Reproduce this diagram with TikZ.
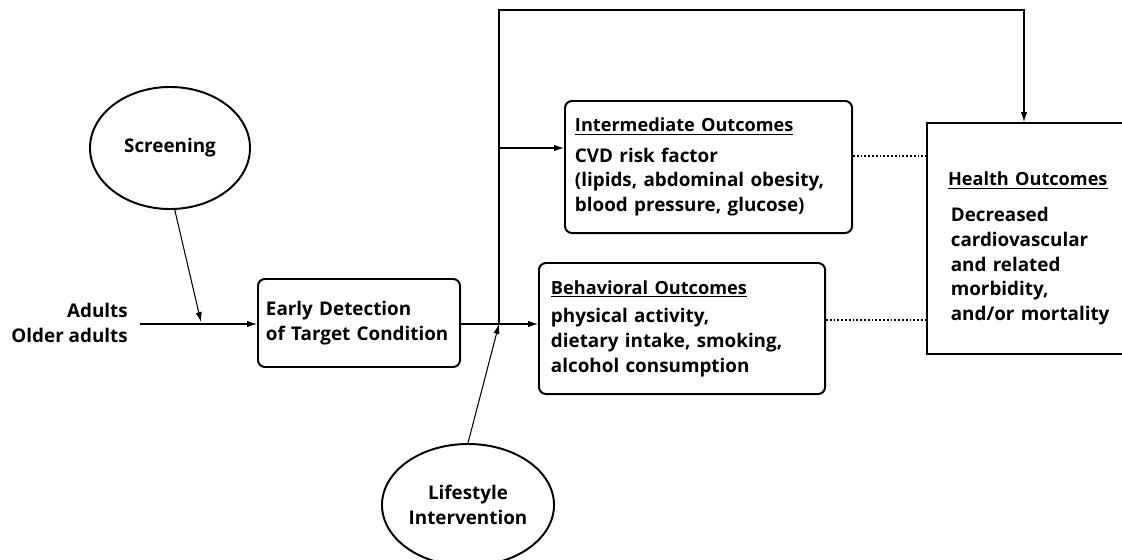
\documentclass[tikz,border=0pt]{standalone}
\usepackage{fontspec}
\setmainfont{Open Sans}
\usetikzlibrary{shapes.geometric,arrows.meta}

\newcommand{\headline}[1]{{\fontsize{12.9}{17.5}\selectfont\underline{#1}}}

\tikzset{
    txt/.style={font=\bfseries\fontsize{13.4}{17.5}\selectfont},
    box/.style={txt, draw, line width=1.4pt, rounded corners=5pt, align=left, anchor=north west, inner ysep=0pt},
    oval/.style={txt, draw, line width=1.4pt, ellipse, align=center, inner sep=0pt},
    link/.style={line width=0.75pt, -{Latex[length=7pt,width=4.5pt]}},
    dots/.style={line width=1.3pt, dash pattern=on 1.3pt off 1.4pt},
}

\begin{document}
\begin{tikzpicture}[x=0.025cm, y=-0.025cm]
    \useasboundingbox (0,0) rectangle (1122,559);

    % ovals
    \node[oval, minimum width=4cm, minimum height=3.05cm] (screen) at (170,148) {Screening};
    \node[oval, minimum width=4.3cm, minimum height=3.05cm] (life) at (468,505) {Lifestyle\\Intervention};

    % population
    \node[txt, align=right, anchor=east, inner sep=0pt] (pop) at (128,323) {Adults\\Older adults};

    % boxes
    \node[box, inner xsep=0.2cm, text width=4.65cm, minimum height=2.2cm] (early) at (257,278)
        {Early Detection\\of Target Condition};
    \node[box, inner xsep=0.25cm, text width=6.675cm, minimum height=3.3cm] (inter) at (564,100)
        {\headline{Intermediate Outcomes}\\[4pt]CVD risk factor\\(lipids, abdominal obesity,\\blood pressure, glucose)};
    \node[box, inner xsep=0.3cm, text width=6.55cm, minimum height=3.275cm] (behav) at (538,262)
        {\headline{Behavioral Outcomes}\\[3pt]physical activity,\\dietary intake, smoking,\\alcohol consumption};
    \node[box, sharp corners, inner xsep=0.525cm, text width=4.4cm, minimum height=5.775cm] (health) at (926,122)
        {\rule{0pt}{24pt}\headline{Health Outcomes}\\[8pt]\hspace{2pt}Decreased\\\hspace{2pt}cardiovascular\\\hspace{2pt}and related\\\hspace{2pt}morbidity,\\\hspace{2pt}and/or mortality};

    % connectors
    \coordinate (start) at (140,324);
    \coordinate (sjoin) at (201,322);
    \coordinate (split) at (499,324);
    \coordinate (branch) at (499,148);
    \coordinate (corner) at (1024,10);

    \draw[link] (start) -- (start -| early.west);
    \draw[link] ([xshift=0.12cm]screen.south) -- (sjoin);
    \draw[link] (early.east |- split) -- (split -| behav.west);
    \draw[link] (split) |- (corner) -- (corner |- health.north);
    \draw[link] (branch) -- (branch -| inter.west);
    \draw[link] (life.north) -- (split);

    \draw[dots] (inter.east |- 0,156) -- (health.west |- 0,156);
    \draw[dots] (behav.east |- 0,320) -- (health.west |- 0,320);
\end{tikzpicture}
\end{document}
